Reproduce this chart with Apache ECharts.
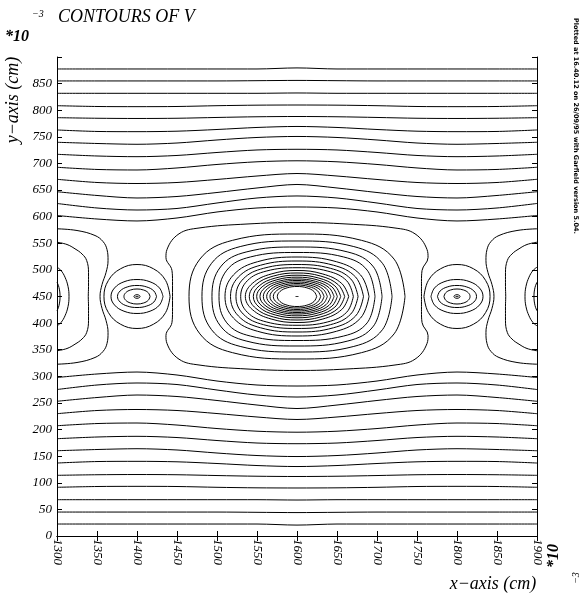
<!DOCTYPE html>
<html><head><meta charset="utf-8">
<script src="https://cdn.jsdelivr.net/npm/echarts@6/dist/echarts.min.js"></script>
<style>html,body{margin:0;padding:0;background:#fff}#c{width:587px;height:600px}</style>
</head><body><div id="c"></div>
<script>
// ---- data (units of 1e-3 cm) ----
const xTickMin = 1300, xTickMax = 1900, yTickMin = 0, yTickMax = 900;
const xSamples = [1300,1350,1400,1450,1500,1550,1600,1650,1700,1750,1800,1850,1900];

// near-horizontal equipotentials, upper half (y at each xSample)
const topLines = [
  [877.5,877.5,877.5,877.5,877.5,877.5,879.5,877.5,877.5,877.5,877.5,877.5,877.5],
  [855,855,855,855,855,855.5,856,855.5,855,855,855,855,855],
  [831.8,831.8,831.8,831.8,831.8,831.8,832.4,831.8,831.8,831.8,831.8,831.8,831.8],
  [808.5,807,806.7,807,808.5,809.5,809.8,809.5,808.5,807,806.7,807,808.5],
  [786,784.9,784.5,784.9,786.4,787.7,788.2,787.7,786.4,784.9,784.5,784.9,786],
  [762.9,760.1,759.7,760.6,763.8,767.6,769.5,767.6,763.8,760.6,759.7,760.1,762.9],
  [739.8,737.5,736,738.4,744.1,748.8,750.7,748.8,744.1,738.4,736,737.5,739.8],
  [717.2,714,712.7,715,720.6,725.3,726.6,725.3,720.6,715,712.7,714,717.2],
  [692.8,688.7,687.7,691.5,698.1,703.1,705,703.1,698.1,691.5,687.7,688.7,692.8],
  [670.2,664.2,662.3,664.2,669.9,676.4,681.1,676.4,669.9,664.2,662.3,664.2,670.2],
  [646.9,639.8,635.1,637.9,645.4,653.9,660.5,653.9,645.4,637.9,635.1,639.8,646.9],
  [624.8,616.3,612.5,615.4,625.7,635.1,638.9,635.1,625.7,615.4,612.5,616.3,624.8],
  [602.2,595.6,591.9,597.5,608.8,616.3,618.2,616.3,608.8,597.5,591.9,595.6,602.2]
];
// near-horizontal equipotentials, lower half
const bottomLines = [
  [22.5,22.5,22.5,22.5,22.5,22.5,20.5,22.5,22.5,22.5,22.5,22.5,22.5],
  [45,45,45,45,45,44.5,44,44.5,45,45,45,45,45],
  [68.2,68.2,68.2,68.2,68.2,68.2,67.6,68.2,68.2,68.2,68.2,68.2,68.2],
  [91.5,93,93.3,93,91.5,90.5,90.2,90.5,91.5,93,93.3,93,91.5],
  [114,115.1,115.5,115.1,113.6,112.3,111.8,112.3,113.6,115.1,115.5,115.1,114],
  [137.1,139.9,140.3,139.4,136.2,132.4,130.5,132.4,136.2,139.4,140.3,139.9,137.1],
  [160.2,162.5,164,161.6,155.9,151.2,149.3,151.2,155.9,161.6,164,162.5,160.2],
  [182.8,186,187.3,185,179.4,174.7,173.4,174.7,179.4,185,187.3,186,182.8],
  [207.2,211.3,212.3,208.5,201.9,196.9,195,196.9,201.9,208.5,212.3,211.3,207.2],
  [229.8,235.8,237.7,235.8,230.1,223.6,218.9,223.6,230.1,235.8,237.7,235.8,229.8],
  [253.1,260.2,264.9,262.1,254.6,246.1,239.5,246.1,254.6,262.1,264.9,260.2,253.1],
  [275.2,283.7,287.5,284.6,274.3,264.9,261.1,264.9,274.3,284.6,287.5,283.7,275.2],
  [297.8,304.4,308.1,302.5,291.2,283.7,281.8,283.7,291.2,302.5,308.1,304.4,297.8]
];

// wire positions
const centerWire = [1600, 450];
const sideWires = [1400, 1800];
const edgeWires = [1300, 1900];

// closed contours round the centre wire: upper-right quarter, from right point to top point
const centerRings = [
  [[1624.6,450],[1621.3,459.4],[1612.3,466.3],[1600,468.8]],
  [[1629.6,450],[1625.6,460.8],[1614.8,468.7],[1600,471.6]],
  [[1633.8,450],[1629.3,462.2],[1616.9,471.1],[1600,474.4]],
  [[1637.9,450],[1632.8,463.6],[1619,473.6],[1600,477.2]],
  [[1642.1,450],[1636.5,465.1],[1621.1,476.1],[1600,480.1]],
  [[1646.3,450],[1640.1,466.5],[1623.2,478.5],[1600,482.9]],
  [[1650.4,450],[1643.6,468.2],[1625.2,481.4],[1600,486.3]],
  [[1654.6,450],[1647.3,470],[1627.3,484.6],[1600,490]],
  [[1659.6,450],[1651.6,472.1],[1629.8,488.3],[1600,494.2]],
  [[1664.6,450],[1655.9,474.5],[1632.3,492.3],[1600,498.9]],
  [[1670.4,450],[1662.1,479.6],[1638.5,497.7],[1600,504.1]],
  [[1676.3,450],[1667.3,482.9],[1641.7,503],[1600,510.1]],
  [[1683.1,450],[1673.3,486.5],[1645.5,508.8],[1600,516.7]],
  [[1690,450],[1679.4,490.6],[1649.2,515.4],[1600,524.2]],
  [[1697.5,450],[1687.7,499.5],[1658.3,524.3],[1600,532.7]],
  [[1706.3,450],[1695.6,505.6],[1663.6,533.6],[1600,543]],
  [[1718.8,450],[1706.8,512.4],[1671,543.8],[1600,554.3]],
  [[1735,450],[1721.4,520.2],[1680.7,555.5],[1600,567.4]],
  [[1755.6,450],[1755.6,478.2],[1756.3,498.9],[1763.8,523.3],[1762.5,538.3],[1747.5,567.8],[1722.5,578.7],[1662.5,586.2],[1600,589]]
];

// closed contours round the wire at x=1400 (same read for x=1800): upper-right quarter
const sideRings = [
  [[1403.8,450],[1403.3,451.7],[1401.9,452.9],[1400,453.4]],
  [[1416.3,450],[1414.1,457.1],[1408.2,462.2],[1400,464.1]],
  [[1424.4,450],[1421.1,460.4],[1412.2,467.9],[1400,470.7]],
  [[1432.5,450],[1428.1,466],[1416.3,477.6],[1400,481.9]],
  [[1441.3,450],[1435.8,480.1],[1420.7,502],[1400,510.1]]
];

// contours round the wire on the left frame (x=1300): upper half, frame to mid-plane
const edgeCurves = [
  [[1300,577.2],[1325,574],[1347.5,564.6],[1357.5,553.3],[1362.5,538.3],[1363.8,517.6],[1361.3,495.1],[1356.3,472.5],[1353.8,450]],
  [[1300,552],[1312.5,547.7],[1322.5,539.6],[1331.3,529.9],[1337.1,517.6],[1339.4,495.1],[1339.4,468.8],[1339.1,450]],
  [[1300,505.1],[1305,498.9],[1310,486.3],[1313.8,468.8],[1315,450]],
  [[1300,476.9],[1302.5,466.9],[1303.8,450]]
];

// ---- build series ----
function closeRing(q, cx, cy) {
  const n = q.length, out = q.slice();
  for (let i = n - 2; i >= 0; i--) out.push([2*cx - q[i][0], q[i][1]]);
  for (let i = 1; i < n; i++) out.push([2*cx - q[i][0], 2*cy - q[i][1]]);
  for (let i = n - 2; i >= 0; i--) out.push([q[i][0], 2*cy - q[i][1]]);
  return out;
}
function closeHalf(h, cy) {
  const out = h.slice();
  for (let i = h.length - 2; i >= 0; i--) out.push([h[i][0], 2*cy - h[i][1]]);
  return out;
}
function ls(data, sm) {
  return {type:'line', data, showSymbol:false, smooth: sm, silent:true, animation:false,
          lineStyle:{color:'#000', width:1}, clip:true, z:3};
}
const series = [];
topLines.concat(bottomLines).forEach(l => series.push(ls(xSamples.map((x,i)=>[x,l[i]]), 0.3)));
const cy = centerWire[1];
centerRings.forEach(q => series.push(ls(closeRing(q, centerWire[0], cy), 0.4)));
sideRings.forEach(q => {
  const left = closeRing(q, sideWires[0], cy);
  series.push(ls(left, 0.4));
  series.push(ls(left.map(p => [sideWires[0] + sideWires[1] - p[0], p[1]]), 0.4));
});
edgeCurves.forEach(h => {
  const c = closeHalf(h, cy);
  series.push(ls(c, 0.4));
  series.push(ls(c.map(p => [edgeWires[0] + edgeWires[1] - p[0], p[1]]), 0.4));
});
series.push({type:'scatter', data:[centerWire, [sideWires[0],cy], [sideWires[1],cy]],
  symbol:'rect', symbolSize:[3,1], itemStyle:{color:'#000'}, silent:true, animation:false, z:4});

const lab = {fontFamily:'Liberation Serif', fontStyle:'italic', fontSize:13, color:'#000'};
const axLine = {show:true, lineStyle:{color:'#000', width:1}};
const tick = (len) => ({show:true, inside:true, length:len, lineStyle:{color:'#000', width:1}});

const chart = echarts.init(document.getElementById('c'), null, {renderer:'canvas'});
chart.setOption({
  backgroundColor:'#fff',
  animation:false,
  grid:{left:57, top:57, width:480, height:479, containLabel:false},
  xAxis:[
    {type:'value', min:xTickMin, max:xTickMax, interval:50, position:'bottom',
     axisLine:axLine, axisTick:tick(5), splitLine:{show:false},
     axisLabel:Object.assign({rotate:-90, margin:3, formatter:v => String(v)}, lab)},
    {type:'value', min:xTickMin, max:xTickMax, interval:50, position:'top',
     axisLine:axLine, axisTick:tick(5), splitLine:{show:false}, axisLabel:{show:false}}
  ],
  yAxis:[
    {type:'value', min:yTickMin, max:yTickMax, interval:50, position:'left',
     axisLine:axLine, axisTick:tick(5), splitLine:{show:false},
     axisLabel:Object.assign({margin:5, formatter:v => v === yTickMax ? '' : String(v)}, lab)},
    {type:'value', min:yTickMin, max:yTickMax, interval:50, position:'right',
     axisLine:axLine, axisTick:tick(5), splitLine:{show:false}, axisLabel:{show:false}}
  ],
  series,
  graphic:[
    {type:'text', left:58, top:8, style:{text:'CONTOURS OF V', font:'italic 18px "Liberation Serif"', fill:'#000'}},
    {type:'text', left:5, top:29, style:{text:'*10', font:'italic bold 16px "Liberation Serif"', fill:'#000'}},
    {type:'text', left:32, top:9, style:{text:'\u22123', font:'italic 10px "Liberation Serif"', fill:'#000'}},
    {type:'text', x:13, y:100, rotation:Math.PI/2,
     style:{text:'y\u2212axis (cm)', font:'italic 18px "Liberation Serif"', fill:'#000', align:'center', verticalAlign:'middle'}},
    {type:'text', x:493, y:584, style:{text:'x\u2212axis (cm)', font:'italic 18px "Liberation Serif"', fill:'#000', align:'center', verticalAlign:'middle'}},
    {type:'text', x:554, y:556, rotation:Math.PI/2,
     style:{text:'*10', font:'italic bold 16px "Liberation Serif"', fill:'#000', align:'center', verticalAlign:'middle'}},
    {type:'text', x:576, y:578, rotation:Math.PI/2,
     style:{text:'\u22123', font:'italic 10px "Liberation Serif"', fill:'#000', align:'center', verticalAlign:'middle'}},
    {type:'text', x:576, y:126, rotation:-Math.PI/2,
     style:{text:'Plotted at 16.40.12 on 26/09/95 with Garfield version 5.04.', font:'bold 6.5px "DejaVu Sans"', fill:'#000', align:'center', verticalAlign:'middle'}}
  ]
});
</script></body></html>
